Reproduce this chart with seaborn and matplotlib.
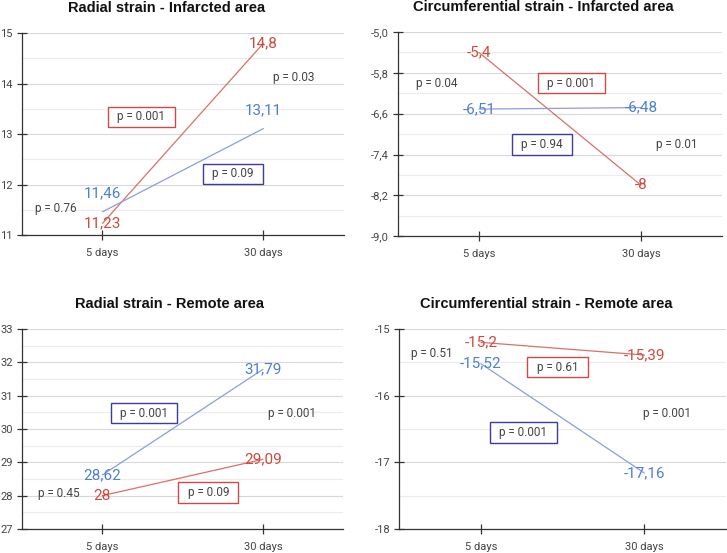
import matplotlib
matplotlib.use("Agg")
import matplotlib.pyplot as plt
import seaborn as sns
import numpy as np
import pandas as pd
from matplotlib.ticker import FixedLocator, FuncFormatter

# ---------------- data ----------------
times = ["5 days", "30 days"]
series_names = ["Red group", "Blue group"]

titles = [
    "Radial strain - Infarcted area",
    "Circumferential strain - Infarcted area",
    "Radial strain - Remote area",
    "Circumferential strain - Remote area",
]

rad_inf_red = [11.23, 14.8]
rad_inf_blue = [11.46, 13.11]
circ_inf_red = [-5.4, -8]
circ_inf_blue = [-6.51, -6.48]
rad_rem_red = [28, 29.09]
rad_rem_blue = [28.62, 31.79]
circ_rem_red = [-15.2, -15.39]
circ_rem_blue = [-15.52, -17.16]

# p-value annotations per panel: (text, box colour key or None)
p_rad_inf = [("p = 0.76", None), ("p = 0.001", "red"), ("p = 0.09", "blue"), ("p = 0.03", None)]
p_circ_inf = [("p = 0.04", None), ("p = 0.001", "red"), ("p = 0.94", "blue"), ("p = 0.01", None)]
p_rad_rem = [("p = 0.001", "blue"), ("p = 0.001", None), ("p = 0.45", None), ("p = 0.09", "red")]
p_circ_rem = [("p = 0.51", None), ("p = 0.61", "red"), ("p = 0.001", "blue"), ("p = 0.001", None)]

# y-axis ranges / ticks
ylims = [(11, 15), (-9.0, -5.0), (27, 33), (-18, -15)]
ysteps = [1, 0.8, 1, 1]
ydecimals = [0, 1, 0, 0]

# ---------------- layout ----------------
axes_rects = [
    (0.0303, 0.575, 0.4427, 0.365),
    (0.5475, 0.573, 0.4455, 0.369),
    (0.0303, 0.0434, 0.4417, 0.3616),
    (0.549, 0.0434, 0.4496, 0.3616),
]
title_x = [0.45, 0.45, 0.46, 0.45]
# positions of p-value texts (data coords)
p_positions = [
    [(-0.29, 11.53), (0.24, 13.34), (0.81, 12.21), (1.19, 14.13)],
    [(-0.26, -6.0), (0.57, -6.0), (0.39, -7.2), (1.22, -7.2)],
    [(0.26, 30.48), (1.18, 30.48), (-0.27, 28.08), (0.66, 28.10)],
    [(-0.30, -15.36), (0.47, -15.57), (0.26, -16.55), (1.14, -16.26)],
]
# offsets of value labels (points) for [red, blue] series
label_offsets = [
    [(0, 0), (0, 13)],
    [(0, 0), (0, 0)],
    [(0, 0), (0, 0)],
    [(0, 0), (0, 0)],
]

line_colors = {"Red group": "#d9706a", "Blue group": "#8a9ee0"}
text_colors = {"Red group": "#cc4a3e", "Blue group": "#4d7fd2"}
box_edges = {"red": "#d04848", "blue": "#3c3ca0"}

panels = [
    (rad_inf_red, rad_inf_blue, p_rad_inf),
    (circ_inf_red, circ_inf_blue, p_circ_inf),
    (rad_rem_red, rad_rem_blue, p_rad_rem),
    (circ_rem_red, circ_rem_blue, p_circ_rem),
]

sns.set_theme(style="white")
plt.rcParams["font.family"] = ["Roboto", "DejaVu Sans"]

fig = plt.figure(figsize=(7.27, 5.53), dpi=100)


def fmt_val(v):
    return ("%g" % v).replace(".", ",")


for i, (red, blue, pvals) in enumerate(panels):
    ax = fig.add_axes(axes_rects[i])
    df = pd.DataFrame({
        "time": times * 2,
        "value": list(red) + list(blue),
        "series": [series_names[0]] * 2 + [series_names[1]] * 2,
    })
    sns.lineplot(data=df, x="time", y="value", hue="series", palette=line_colors,
                 ax=ax, linewidth=0.9, legend=False, sort=False)

    # value labels
    for s_idx, (name, vals) in enumerate(zip(series_names, [red, blue])):
        dx, dy = label_offsets[i][s_idx]
        for xi, v in enumerate(vals):
            ax.annotate(fmt_val(v), xy=(xi, v), xytext=(dx, dy), textcoords="offset points",
                        ha="center", va="center", fontsize=11, color=text_colors[name],
                        zorder=5)

    # p-values
    for (txt, box), (px, py) in zip(pvals, p_positions[i]):
        kw = {}
        if box is not None:
            kw["bbox"] = dict(boxstyle="square,pad=0.8", mutation_aspect=0.4,
                              fc="white", ec=box_edges[box], lw=1.0)
        ax.text(px, py, txt, ha="center", va="center", fontsize=8.5, color="#444444",
                zorder=6, **kw)

    lo, hi = ylims[i]
    step = ysteps[i]
    n = int(round((hi - lo) / step))
    ax.set_ylim(lo, hi)
    ax.set_xlim(-0.5, 1.5)
    ax.yaxis.set_major_locator(FixedLocator(lo + step * np.arange(n + 1)))
    ax.yaxis.set_minor_locator(FixedLocator(lo + step / 2 * np.arange(2 * n + 1)))
    d = ydecimals[i]
    ax.yaxis.set_major_formatter(FuncFormatter(lambda v, p, d=d: ("%.*f" % (d, v)).replace(".", ",")))
    ax.grid(axis="y", which="major", color="#d8d8d8", lw=0.8)
    ax.grid(axis="y", which="minor", color="#ececec", lw=0.8)
    ax.set_axisbelow(True)
    ax.set_xlabel("")
    ax.set_ylabel("")
    for sp in ["top", "right"]:
        ax.spines[sp].set_visible(False)
    for sp in ["left", "bottom"]:
        ax.spines[sp].set_color("#333333")
        ax.spines[sp].set_linewidth(0.9)
    ax.tick_params(axis="both", which="major", direction="inout", length=7, width=0.9,
                   color="#333333", labelsize=8, labelcolor="#444444", pad=3)
    ax.tick_params(axis="x", pad=6)
    ax.tick_params(which="minor", length=0)
    ax.tick_params(axis="y", left=True)
    ax.tick_params(axis="x", bottom=True)
    ax.set_title(titles[i], fontsize=10.5, fontweight="bold", family=["Liberation Sans", "DejaVu Sans"],
                 color="#111111", pad=15, x=title_x[i])

fig.savefig("out.png", dpi=100)
